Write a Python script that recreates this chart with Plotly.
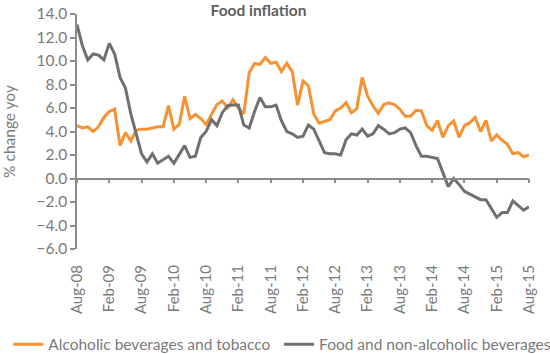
import pandas as pd
import plotly.graph_objects as go

months = [d.strftime("%b-%y") for d in pd.date_range("2008-08-01", "2015-08-01", freq="MS")]
tick_labels = months[::6]

alcohol_tobacco = [4.5, 4.3, 4.4, 4.0, 4.4, 5.2, 5.7, 5.9, 2.8, 3.9, 3.2, 4.1, 4.2, 4.2, 4.3, 4.4, 4.4, 6.2, 4.2, 4.6,
                   7.0, 5.1, 5.45, 5.1, 4.6, 5.5, 6.3, 6.6, 6.0,
                   6.7, 6.0, 5.5, 9.0, 9.8, 9.7, 10.3, 9.8, 9.9, 9.1, 9.8, 9.1, 6.25, 8.3, 7.9, 5.5, 4.7, 4.85, 5.0,
                   5.75, 6.0, 6.45, 5.6, 5.95, 8.6, 7.0, 6.2, 5.55, 6.3, 6.45,
                   6.3, 5.9, 5.3, 5.3, 5.8, 5.75, 4.5, 4.1, 4.95, 3.5, 4.5, 4.9, 3.5, 4.5, 4.75, 5.2, 4.0, 4.95,
                   3.2, 3.7, 3.25, 2.9, 2.1, 2.2, 1.85, 2.0]
food_nonalc = [13.1, 11.3, 10.1, 10.6, 10.5, 10.1, 11.5, 10.6, 8.6, 7.7, 5.5, 3.9, 2.1, 1.4, 2.1, 1.3, 1.6, 1.9, 1.3, 2.0,
               2.8, 1.8, 1.9, 3.5, 4.0, 5.0, 4.5, 5.6, 6.2,
               6.25, 6.25, 4.55, 4.3, 5.7, 6.9, 6.1, 6.1, 6.25, 4.9, 4.0, 3.8, 3.5, 3.6, 4.55, 4.2, 3.2, 2.2, 2.1,
               2.1, 2.0, 3.3, 3.8, 3.7, 4.2, 3.6, 3.8, 4.5, 4.2, 3.8,
               3.9, 4.2, 4.3, 3.9, 2.8, 1.9, 1.9, 1.8, 1.7, 0.5, -0.7, 0.0, -0.5, -1.1, -1.35, -1.55, -1.8, -1.8,
               -2.6, -3.3, -2.9, -2.9, -1.9, -2.3, -2.7, -2.4]

ORANGE = "#F79232"
GRAY = "#707070"
AX = "#8C8C8C"
TXT = "#7A7A7A"
FONT = "Lato"
FS = 15.5

fig = go.Figure()
fig.add_trace(go.Scatter(x=months, y=alcohol_tobacco, mode="lines", name="Alcoholic beverages and tobacco",
                         line=dict(color=ORANGE, width=3), legend="legend"))
fig.add_trace(go.Scatter(x=months, y=food_nonalc, mode="lines", name="Food and non-alcoholic beverages",
                         line=dict(color=GRAY, width=3), legend="legend2"))

leg_common = dict(orientation="h", xanchor="left", y=-0.407, yanchor="middle",
                  font=dict(size=FS, color=TXT), itemwidth=30, bgcolor="rgba(0,0,0,0)")

fig.update_layout(
    width=550, height=354,
    margin=dict(l=77, r=21, t=14, b=105, autoexpand=False),
    paper_bgcolor="white", plot_bgcolor="white",
    font=dict(family=FONT, color=TXT, size=FS),
    title=dict(text="<b>Food inflation</b>", x=0.47, xanchor="center", y=0.97, yanchor="middle",
               font=dict(size=FS, color="#5F5F5F", family=FONT)),
    xaxis=dict(type="category", categoryorder="array", categoryarray=months, range=[0, len(months) - 1],
               tickmode="array", tickvals=tick_labels, ticktext=tick_labels, tickangle=-90,
               showline=False, ticks="", showgrid=False, zeroline=False, ticklabelstandoff=12,
               automargin=False, tickfont=dict(size=15, color=TXT)),
    xaxis2=dict(overlaying="x", anchor="free", position=0.3, range=[0, len(months) - 1],
                tickmode="linear", tick0=0, dtick=6, ticks="outside", ticklen=4, tickwidth=1.5,
                tickcolor=AX, showline=True, linecolor=AX, linewidth=1.5, showticklabels=False,
                showgrid=False, zeroline=False, automargin=False),
    yaxis=dict(range=[-6, 14], tickmode="linear", tick0=-6, dtick=2, tickformat=".1f",
               showline=True, linecolor=AX, linewidth=1.5, ticks="outside", ticklen=5, tickwidth=1.5,
               tickcolor=AX, showgrid=False, zeroline=False, tickfont=dict(size=FS, color=TXT),
               automargin=False,
               title=dict(text="% change yoy", font=dict(size=FS, color=TXT), standoff=18)),
    legend=dict(x=-0.152, **leg_common),
    legend2=dict(x=0.447, **leg_common),
    showlegend=True,
)
fig.add_trace(go.Scatter(x=[0, len(months) - 1], y=[None, None], xaxis="x2", showlegend=False, hoverinfo="skip"))

fig.write_html("out.html")
